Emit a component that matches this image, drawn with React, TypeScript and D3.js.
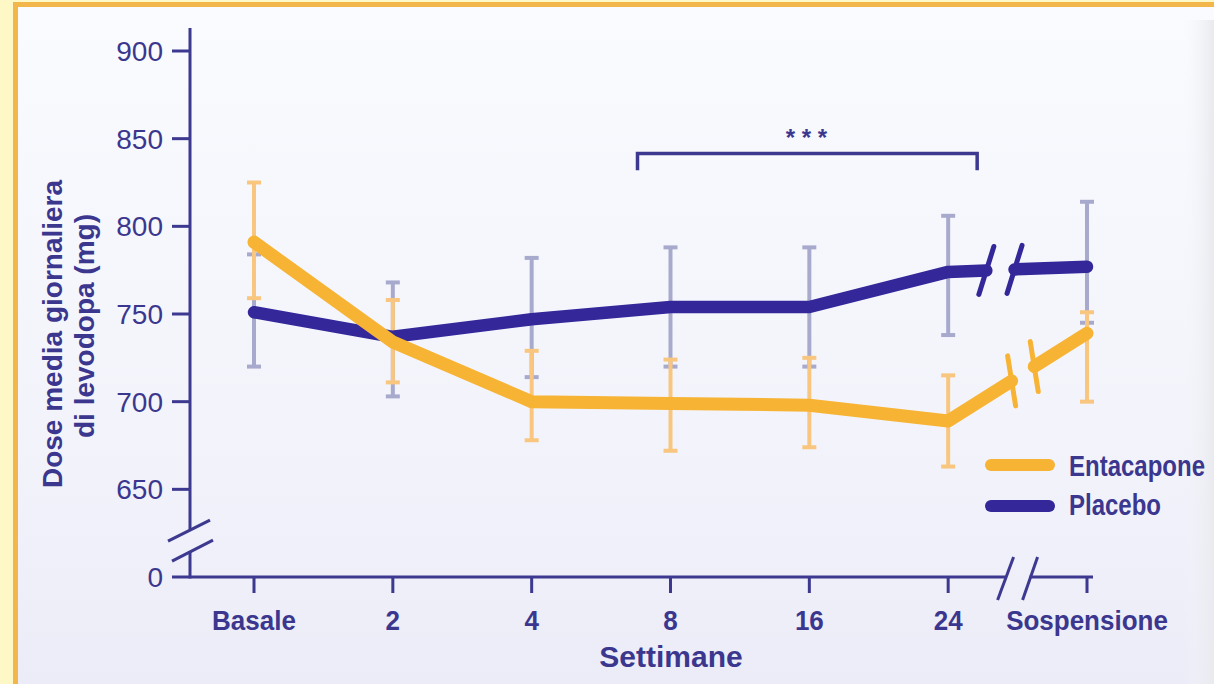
import React from "react";
import * as d3 from "d3";

const categories = ["Basale", "2", "4", "8", "16", "24", "Sospensione"];
const entacaponeMean = [791, 734, 700, 699, 698, 689, 739];
const entacaponeLow = [759, 711, 678, 672, 674, 663, 700];
const entacaponeHigh = [825, 758, 729, 724, 725, 715, 751];
const placeboMean = [751, 737, 747, 754, 754, 774, 777];
const placeboLow = [720, 703, 714, 720, 720, 738, 745];
const placeboHigh = [784, 768, 782, 788, 788, 806, 814];
const yTicks = [900, 850, 800, 750, 700, 650];
const yBreakValue = 600; // drawn as "0" below the axis break
const seriesNames = ["Entacapone", "Placebo"];

const W = 1214;
const H = 684;
const TEXT = "#3b378f";
const AXIS = "#3d3990";
const ORANGE = "#f7b334";
const ORANGE_BAR = "#f8c67e";
const BLUE = "#33279a";
const BLUE_BAR = "#a8aacd";
const FONT = "'Liberation Sans', Arial, sans-serif";

export default function App() {
  const x = d3.scalePoint<string>().domain(categories).range([254, 1087]);
  const y = d3.scaleLinear().domain([yBreakValue, 900]).range([577, 51]);
  const lineGen = d3.line<[number, number]>().x((d) => d[0]).y((d) => d[1]);

  const series = [
    {
      name: seriesNames[1],
      mean: placeboMean,
      low: placeboLow,
      high: placeboHigh,
      color: BLUE,
      bar: BLUE_BAR,
      width: 12.5,
      gap: [0.275, 0.478],
      slashDx: 7.5,
      slashDy: 24,
    },
    {
      name: seriesNames[0],
      mean: entacaponeMean,
      low: entacaponeLow,
      high: entacaponeHigh,
      color: ORANGE,
      bar: ORANGE_BAR,
      width: 13,
      gap: [0.457, 0.62],
      slashDx: -4,
      slashDy: 25,
    },
  ];

  const xAxisY = y(yBreakValue);
  const yAxisX = 190;
  const xBreak = ((x("24") as number) + (x("Sospensione") as number)) / 2;
  const yBreak = y(621);

  const renderBars = (s: typeof series[0]) =>
    categories.map((c, i) => {
      const cx = x(c) as number;
      return (
        <g key={s.name + c} stroke={s.bar} strokeWidth={4}>
          <line x1={cx} x2={cx} y1={y(s.low[i])} y2={y(s.high[i])} />
          <line x1={cx - 7} x2={cx + 7} y1={y(s.low[i])} y2={y(s.low[i])} />
          <line x1={cx - 7} x2={cx + 7} y1={y(s.high[i])} y2={y(s.high[i])} />
        </g>
      );
    });

  const renderLine = (s: typeof series[0]) => {
    const pts: [number, number][] = categories.map((c, i) => [x(c) as number, y(s.mean[i])]);
    const n = pts.length;
    const a = pts[n - 2];
    const b = pts[n - 1];
    const lerp = (t: number): [number, number] => [a[0] + (b[0] - a[0]) * t, a[1] + (b[1] - a[1]) * t];
    const g0 = lerp(s.gap[0]);
    const g1 = lerp(s.gap[1]);
    const first = [...pts.slice(0, n - 1), g0];
    const second = [g1, b];
    return (
      <g key={s.name + "line"}>
        <path d={lineGen(first) as string} fill="none" stroke={s.color} strokeWidth={s.width} strokeLinecap="round" strokeLinejoin="round" />
        <path d={lineGen(second) as string} fill="none" stroke={s.color} strokeWidth={s.width} strokeLinecap="round" strokeLinejoin="round" />
        {[g0, g1].map((g, k) => (
          <line key={k} x1={g[0] - s.slashDx} y1={g[1] + s.slashDy} x2={g[0] + s.slashDx} y2={g[1] - s.slashDy} stroke={s.color} strokeWidth={5} strokeLinecap="round" />
        ))}
      </g>
    );
  };

  const bx0 = (x("8") as number) - 33;
  const bx1 = (x("24") as number) + 29;
  const by = y(841.5);
  const byDrop = y(832);

  return (
    <svg width={W} height={H} style={{ position: "fixed", left: 0, top: 0, display: "block" }} fontFamily={FONT}>
      <defs>
        <linearGradient id="bg" x1="0" y1="0" x2="0" y2="1">
          <stop offset="0" stopColor="#fafbfe" />
          <stop offset="0.6" stopColor="#f3f4fb" />
          <stop offset="1" stopColor="#ebecf7" />
        </linearGradient>
        <linearGradient id="rightEdge" x1="0" y1="0" x2="1" y2="0">
          <stop offset="0" stopColor="#f4f5fa" stopOpacity="0" />
          <stop offset="1" stopColor="#e9eaee" />
        </linearGradient>
      </defs>
      <rect x={0} y={0} width={W} height={H} fill="#fdf8c6" />
      <rect x={18} y={7} width={W - 18} height={H - 7} fill="url(#bg)" />
      <rect x={1184} y={20} width={30} height={H - 20} fill="url(#rightEdge)" />
      <rect x={13} y={2} width={W - 13} height={5} fill="#f3b64a" />
      <rect x={13} y={2} width={5} height={H - 2} fill="#f3b64a" />

      {/* y axis */}
      <g stroke={AXIS} strokeWidth={3} fill="none">
        <line x1={yAxisX} x2={yAxisX} y1={28} y2={yBreak - 11} />
        <line x1={yAxisX} x2={yAxisX} y1={yBreak + 11} y2={xAxisY + 1.5} />
        <line x1={168} y1={yBreak + 1} x2={210} y2={yBreak - 20} />
        <line x1={172} y1={yBreak + 21} x2={213} y2={yBreak} />
        {yTicks.map((t) => (
          <line key={t} x1={172} x2={yAxisX} y1={y(t)} y2={y(t)} />
        ))}
        {/* x axis */}
        <line x1={172} x2={xBreak - 12} y1={xAxisY} y2={xAxisY} />
        <line x1={xBreak + 12} x2={1093} y1={xAxisY} y2={xAxisY} />
        <line x1={xBreak - 20} y1={xAxisY + 23} x2={xBreak - 4} y2={xAxisY - 20} />
        <line x1={xBreak + 5} y1={xAxisY + 23} x2={xBreak + 20} y2={xAxisY - 20} />
        {categories.map((c) => (
          <line key={c} x1={x(c) as number} x2={x(c) as number} y1={xAxisY} y2={xAxisY + 16} />
        ))}
      </g>

      <g fill={TEXT} fontSize={28} textAnchor="end">
        {yTicks.map((t) => (
          <text key={t} x={163} y={y(t)} dy="0.36em">
            {t}
          </text>
        ))}
        <text x={163} y={xAxisY} dy="0.36em">
          0
        </text>
      </g>

      <g fill={TEXT} fontSize={26} fontWeight="bold" textAnchor="middle">
        {categories.map((c) => (
          <text key={c} transform={`translate(${x(c) as number},630) scale(1,1.08)`}>
            {c}
          </text>
        ))}
        <text x={671} y={667} fontSize={30}>
          Settimane
        </text>
      </g>

      <g fill={TEXT} fontSize={28} fontWeight="bold" textAnchor="middle">
        <text transform="translate(62,334) rotate(-90)">Dose media giornaliera</text>
        <text transform="translate(94,326) rotate(-90)">di levodopa (mg)</text>
      </g>

      {/* significance bracket */}
      <path d={`M${bx0},${byDrop} V${by} H${bx1} V${byDrop}`} fill="none" stroke={AXIS} strokeWidth={3.5} />
      <text x={(bx0 + bx1) / 2 - 1} y={146} fill={TEXT} fontSize={24} fontWeight="bold" textAnchor="middle">
        * * *
      </text>

      {renderBars(series[0])}
      {renderBars(series[1])}
      {renderLine(series[0])}
      {renderLine(series[1])}

      {/* legend */}
      <g>
        <line x1={991} x2={1049} y1={465} y2={465} stroke={ORANGE} strokeWidth={12} strokeLinecap="round" />
        <line x1={991} x2={1049} y1={506} y2={506} stroke={BLUE} strokeWidth={12} strokeLinecap="round" />
        <text transform="translate(1069,476) scale(1,1.22)" fill={TEXT} fontSize={24} fontWeight="bold">
          {seriesNames[0]}
        </text>
        <text transform="translate(1069,515) scale(1,1.22)" fill={TEXT} fontSize={24} fontWeight="bold">
          {seriesNames[1]}
        </text>
      </g>
    </svg>
  );
}
